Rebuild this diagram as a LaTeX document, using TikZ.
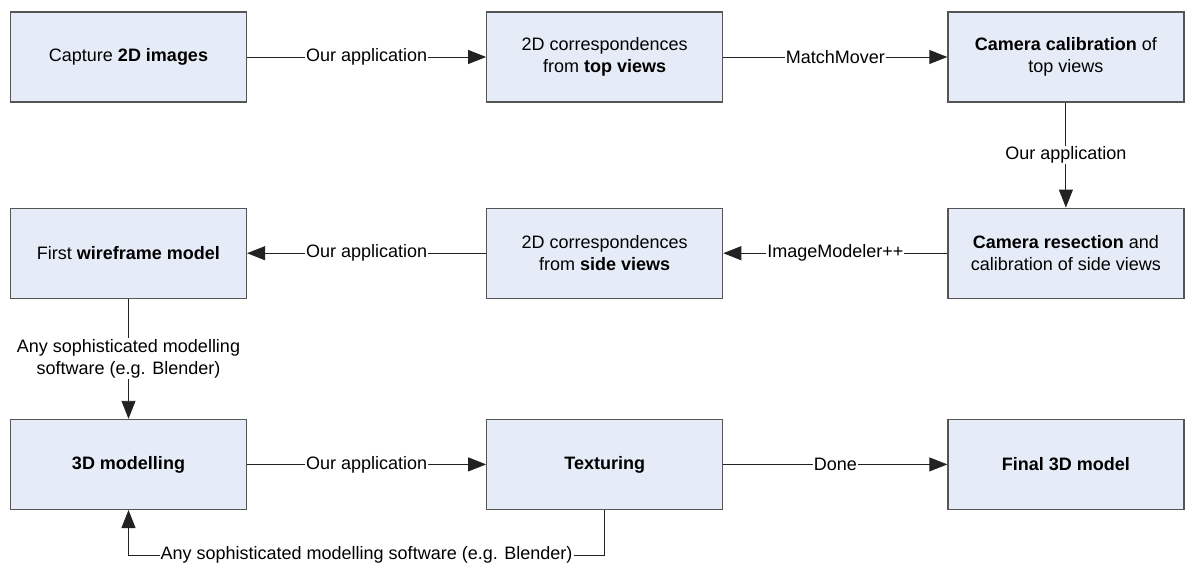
\documentclass[tikz,border=0pt]{standalone}
\usepackage{fontspec}
\setmainfont{Liberation Sans}
\usetikzlibrary{arrows.meta,positioning}
\definecolor{boxfill}{HTML}{E6ECF7}
\definecolor{boxline}{HTML}{555555}
\definecolor{ink}{HTML}{222222}

\begin{document}
\begin{tikzpicture}[x=1pt,y=-1pt,font=\fontsize{18}{22}\selectfont,
  stage/.style={draw=boxline,line width=1.2pt,fill=boxfill,minimum width=236pt,minimum height=90pt,align=center,inner sep=0pt},
  arr/.style={-{Triangle[length=18pt,width=14pt]},ink,line width=0.9pt},
  lbl/.style={fill=white,inner sep=1pt,align=center,text=black}]
\useasboundingbox (0,0) rectangle (1187,568);
% row 1
\node[stage] (cap) at (128.5,57) {Capture \textbf{2D images}};
\node[stage,right=239pt of cap] (top) {2D correspondences\\from \textbf{top views}};
\node[stage,right=224pt of top] (calib) {\textbf{Camera calibration} of\\top views};
% row 2
\node[stage,below=105pt of calib] (resec) {\textbf{Camera resection} and\\calibration of side views};
\node[stage,below=105pt of top] (side) {2D correspondences\\from \textbf{side views}};
\node[stage,below=105pt of cap] (wire) {First \textbf{wireframe model}};
% row 3
\node[stage,below=120pt of wire] (model) {\textbf{3D modelling}};
\node[stage,below=120pt of side] (tex) {\textbf{Texturing}};
\node[stage,below=120pt of resec] (final) {\textbf{Final 3D model}};
\coordinate (loop) at (0,555);
% connectors
\draw[arr] (cap) -- node[lbl]{Our application} (top);
\draw[arr] (top) -- node[lbl]{MatchMover} (calib);
\draw[arr] (calib) -- node[lbl]{Our application} (resec);
\draw[arr] (resec) -- node[lbl]{ImageModeler++} (side);
\draw[arr] (side) -- node[lbl]{Our application} (wire);
\draw[arr] (wire) -- node[lbl]{Any sophisticated modelling\\software (e.g. Blender)} (model);
\draw[arr] (model) -- node[lbl]{Our application} (tex);
\draw[arr] (tex) -- node[lbl]{Done} (final);
\draw[arr] (tex.south) -- (tex.south |- loop) -- node[lbl]{Any sophisticated modelling software (e.g. Blender)} (model.south |- loop) -- (model.south);
\end{tikzpicture}
\end{document}
